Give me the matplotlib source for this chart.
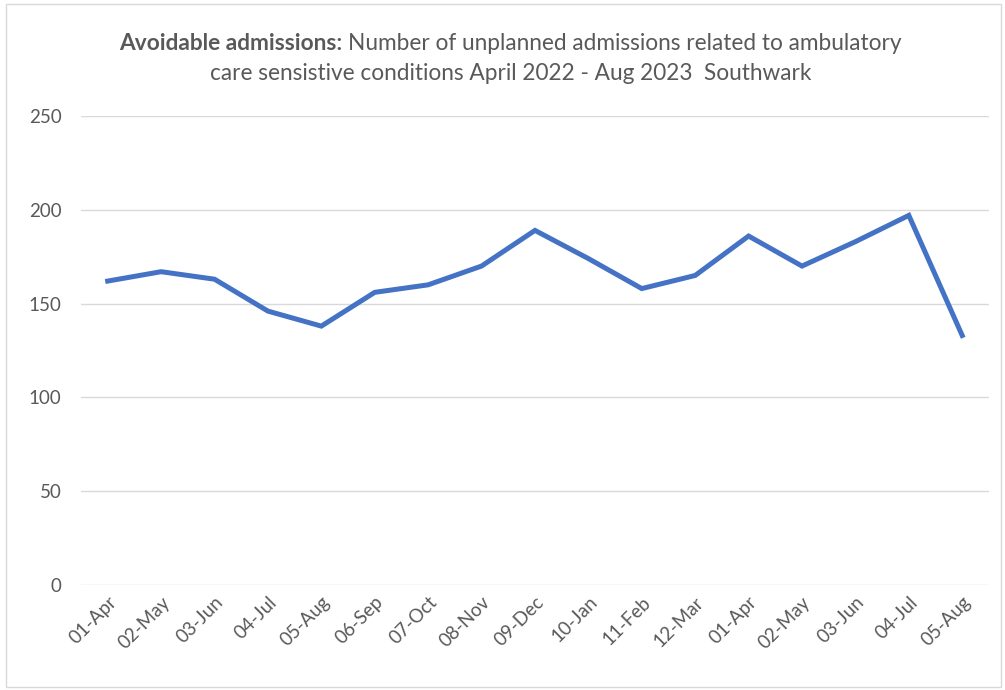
import matplotlib.pyplot as plt
from matplotlib.patches import Rectangle

plt.rcParams['font.family'] = ['Lato', 'DejaVu Sans']

months = ['01-Apr', '02-May', '03-Jun', '04-Jul', '05-Aug', '06-Sep', '07-Oct',
          '08-Nov', '09-Dec', '10-Jan', '11-Feb', '12-Mar', '01-Apr', '02-May',
          '03-Jun', '04-Jul', '05-Aug']
admissions = [162, 167, 163, 146, 138, 156, 160, 170, 189, 174, 158, 165,
              186, 170, 183, 197, 133]
yticks = [0, 50, 100, 150, 200, 250]

fig = plt.figure(figsize=(10.05, 6.9), dpi=100)
ax = fig.add_axes([0.0806, 0.152, 0.9034, 0.68])

x = range(len(months))
ax.plot(x, admissions, color='#4472C4', linewidth=3.6, solid_joinstyle='miter')

ax.set_xlim(-0.5, len(months) - 0.5)
ax.set_ylim(0, 250)
ax.set_yticks(yticks)
ax.set_xticks(list(x))
ax.set_xticklabels(months, rotation=45, ha='right', rotation_mode='anchor')
ax.tick_params(axis='both', length=0, labelsize=13.5, colors='#595959')
ax.tick_params(axis='y', pad=14)
ax.tick_params(axis='x', pad=6)
ax.grid(axis='y', color='#d9d9d9', linewidth=1)
ax.set_axisbelow(True)
for s in ax.spines.values():
    s.set_visible(False)

# title with bold lead-in
fig.canvas.draw()
r = fig.canvas.get_renderer()
fs = 16.3
t1 = fig.text(0, 0, 'Avoidable admissions: ', fontsize=fs, fontweight='bold', color='#595959')
t2 = fig.text(0, 0, 'Number of unplanned admissions related to ambulatory', fontsize=fs, color='#595959')
w1 = t1.get_window_extent(r).width / 1005
w2 = t2.get_window_extent(r).width / 1005
x0 = 0.508 - (w1 + w2) / 2
y_line1 = 1 - 50 / 690
t1.set_position((x0, y_line1))
t2.set_position((x0 + w1, y_line1))
fig.text(0.508, 1 - 80 / 690, 'care sensistive conditions April 2022 - Aug 2023  Southwark',
         fontsize=fs, color='#595959', ha='center')

fig.patches.append(Rectangle((0.006, 0.004), 0.99, 0.99, transform=fig.transFigure,
                             fill=False, edgecolor='#d9d9d9', linewidth=1))

fig.savefig('out.png', dpi=100)
